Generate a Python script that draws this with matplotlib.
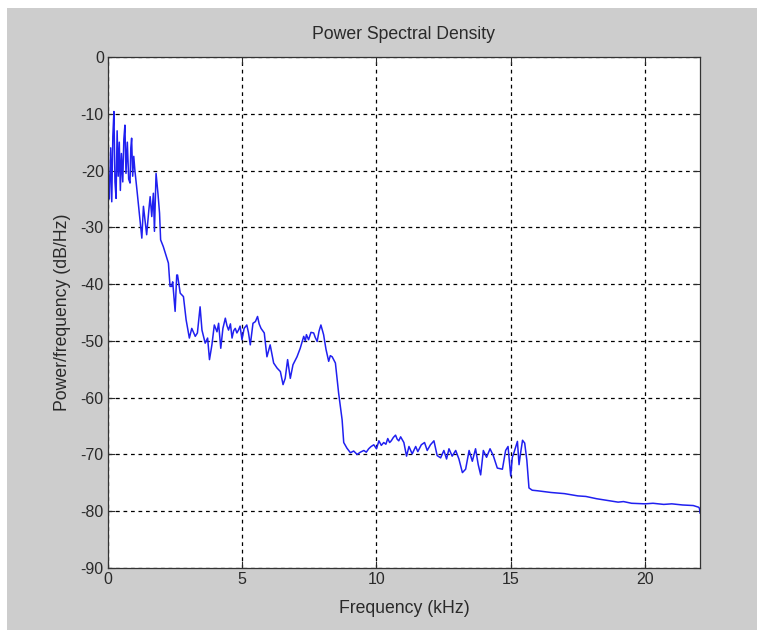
import matplotlib
matplotlib.use("Agg")
import matplotlib.pyplot as plt
from matplotlib.patches import Rectangle

plt.rcParams['font.family'] = ['Liberation Sans', 'DejaVu Sans']
plt.rcParams['axes.unicode_minus'] = False

freq_khz = [0.00, 0.05, 0.10, 0.14, 0.18, 0.22, 0.26, 0.30, 0.34, 0.38, 0.42, 0.46,
            0.50, 0.55, 0.59, 0.63, 0.67, 0.72, 0.77, 0.82, 0.85, 0.88, 0.92, 0.96,
            1.00, 1.08, 1.19, 1.26, 1.32, 1.44, 1.52, 1.57, 1.63, 1.69, 1.73, 1.79,
            1.86, 1.92, 1.96, 2.06, 2.19, 2.25, 2.31, 2.37, 2.41, 2.50, 2.56, 2.59,
            2.69, 2.81, 2.91, 3.03, 3.12, 3.25, 3.33, 3.43, 3.50, 3.62, 3.71, 3.78,
            3.87, 3.96, 4.06, 4.12, 4.20, 4.28, 4.37, 4.43, 4.49, 4.56, 4.62, 4.68,
            4.74, 4.80, 4.86, 4.92, 4.99, 5.07, 5.17, 5.23, 5.30, 5.40, 5.49, 5.57,
            5.63, 5.70, 5.82, 5.92, 6.04, 6.17, 6.30, 6.42, 6.52, 6.60, 6.69, 6.79,
            6.89, 7.04, 7.16, 7.29, 7.35, 7.39, 7.47, 7.56, 7.66, 7.72, 7.79, 7.86,
            7.93, 8.03, 8.12, 8.22, 8.28, 8.35, 8.47, 8.59, 8.72, 8.78, 8.90, 9.03,
            9.15, 9.28, 9.40, 9.53, 9.62, 9.71, 9.80, 9.90, 10.00, 10.09, 10.18, 10.27,
            10.35, 10.42, 10.49, 10.55, 10.63, 10.71, 10.77, 10.83, 10.90, 11.02, 11.12,
            11.21, 11.33, 11.46, 11.54, 11.67, 11.79, 11.89, 12.01, 12.14, 12.26, 12.39,
            12.51, 12.61, 12.70, 12.82, 12.95, 13.07, 13.20, 13.32, 13.45, 13.57, 13.69,
            13.79, 13.88, 13.98, 14.10, 14.23, 14.35, 14.50, 14.69, 14.81, 14.90, 15.00,
            15.06, 15.12, 15.25, 15.31, 15.36, 15.44, 15.52, 15.60, 15.68, 15.80, 16.00,
            16.50, 17.00, 17.50, 17.80, 18.20, 18.60, 19.00, 19.20, 19.50, 20.00, 20.30,
            20.70, 21.00, 21.40, 21.80, 22.00, 22.03, 22.05]
psd_db = [-19.0, -25.0, -16.0, -25.5, -14.0, -9.6, -22.0, -24.9, -13.0, -21.0, -15.0, -23.5,
          -17.0, -22.0, -14.5, -12.0, -20.5, -15.0, -21.5, -22.2, -16.0, -14.3, -21.0, -17.5,
          -19.9, -23.5, -28.7, -31.9, -26.3, -31.3, -27.0, -24.6, -28.1, -24.0, -30.7, -20.5,
          -24.0, -27.5, -32.2, -33.4, -35.4, -36.3, -40.4, -40.4, -39.6, -44.8, -38.4, -38.4,
          -41.6, -42.2, -46.3, -49.5, -47.8, -49.2, -48.6, -44.0, -48.1, -50.4, -49.5, -53.3,
          -50.7, -47.2, -48.4, -46.9, -51.3, -47.8, -46.0, -47.3, -48.1, -47.0, -49.5, -48.2,
          -47.8, -48.6, -48.1, -47.4, -49.8, -47.8, -47.2, -48.5, -50.7, -46.9, -46.6, -45.7,
          -47.0, -47.8, -48.6, -52.8, -50.7, -53.9, -54.8, -55.4, -57.7, -56.6, -53.3, -56.6,
          -54.2, -52.8, -51.3, -49.2, -50.0, -48.9, -49.8, -48.5, -48.6, -49.4, -50.1, -48.3,
          -47.2, -48.9, -51.5, -53.6, -52.6, -52.8, -53.9, -59.2, -63.9, -67.9, -68.9, -69.7,
          -69.4, -70.0, -69.6, -69.3, -69.6, -69.0, -68.6, -68.3, -69.0, -67.6, -68.4, -67.9,
          -68.2, -67.2, -67.9, -67.6, -67.0, -66.6, -67.3, -67.6, -66.9, -67.9, -70.3,
          -68.6, -69.9, -68.6, -69.5, -68.3, -67.9, -69.3, -68.3, -67.6, -70.2, -70.6,
          -69.3, -70.8, -69.0, -70.3, -69.3, -70.8, -73.2, -72.6, -69.3, -71.2, -69.0,
          -71.8, -73.6, -69.3, -70.5, -69.0, -70.2, -72.4, -72.6, -69.3, -68.6, -73.8,
          -70.5, -69.7, -67.7, -71.8, -70.0, -67.5, -68.0, -71.0, -75.9, -76.3, -76.4,
          -76.7, -76.9, -77.3, -77.4, -77.8, -78.1, -78.4, -78.3, -78.6, -78.7, -78.6,
          -78.8, -78.7, -78.9, -79.0, -79.3, -79.5, -80.3]

x_ticks = [0, 5, 10, 15, 20]
y_ticks = [0, -10, -20, -30, -40, -50, -60, -70, -80, -90]

W, H = 757, 630
fig = plt.figure(figsize=(W / 100, H / 100), dpi=100, facecolor='white')
fig.patches.append(Rectangle((7 / W, 0), 1 - 7 / W, 1 - 8 / H, transform=fig.transFigure,
                             facecolor='#cdcdcd', edgecolor='none', zorder=-10))

ax = fig.add_axes([108 / W, 1 - 568 / H, (700 - 108) / W, (568 - 57) / H])
ax.set_facecolor('white')
ax.plot(freq_khz, psd_db, color='#2020f0', linewidth=1.1)

ax.set_xlim(0, 22.05)
ax.set_ylim(-90, 0)
ax.set_xticks(x_ticks)
ax.set_yticks(y_ticks)
ax.tick_params(direction='in', top=True, right=True, length=5, width=0.8,
               labelsize=11.5, colors='#2a2a2a', pad=3)
ax.grid(True, color='black', linestyle=(0, (3, 3)), linewidth=0.9)
for s in ax.spines.values():
    s.set_color('#333333')
    s.set_linewidth(0.9)

ax.set_title('Power Spectral Density', fontsize=12.7, color='#2a2a2a', pad=13)
ax.set_xlabel('Frequency (kHz)', fontsize=12.7, color='#2a2a2a', labelpad=9)
ax.set_ylabel('Power/frequency (dB/Hz)', fontsize=12.7, color='#2a2a2a', labelpad=7)

fig.savefig('out.png', dpi=100, facecolor='white')
